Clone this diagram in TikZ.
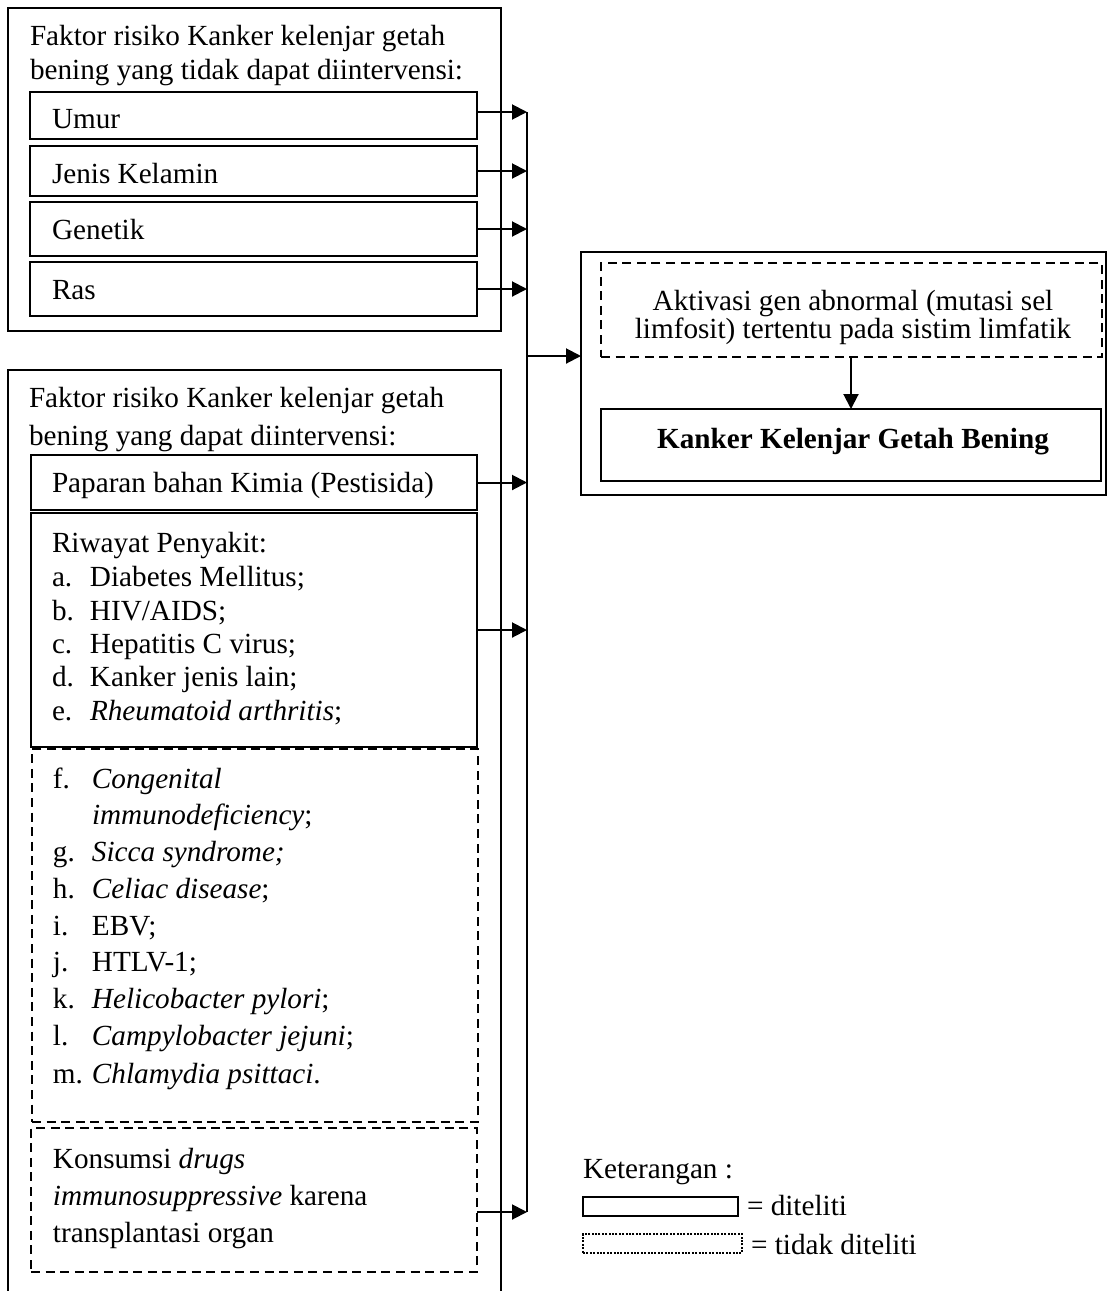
\documentclass[tikz,border=0pt]{standalone}
\usepackage{fontspec}
\setmainfont{Liberation Serif}
\usetikzlibrary{arrows.meta,fit}
\begin{document}
\begin{tikzpicture}[x=0.5pt,y=-0.5pt,
  every node/.style={font=\fontsize{14.6}{17}\selectfont, inner sep=0pt, outer sep=0pt},
  box/.style={draw, line width=1pt},
  dbox/.style={draw, line width=1pt, dash pattern=on 4.5pt off 2.8pt},
  legdash/.style={draw, line width=1.4pt, dash pattern=on 1pt off 0.7pt},
  txt/.style={anchor=base west},
  ctxt/.style={anchor=base},
  arr/.style={line width=1pt, -{Triangle[length=7.5pt,width=7.5pt]}},
  ln/.style={line width=1pt}]
\useasboundingbox (0,0) rectangle (1109,1291);
% ---------- top group ----------
\node[box, fit={(8,8) (501,331)}] (topgrp) {};
\node[txt] (t1) at (30,45) {Faktor risiko Kanker kelenjar getah};
\node[txt] (t2) at (30,79) {bening yang tidak dapat diintervensi:};
\node[box, fit={(30,92) (477,139)}] (umur) {};
\node[box, fit={(30,146) (477,196)}] (jenis) {};
\node[box, fit={(30,202) (477,256)}] (genetik) {};
\node[box, fit={(30,262) (477,316)}] (ras) {};
\node[txt] (umurT) at (52,128) {Umur};
\node[txt] (jenisT) at (52,183) {Jenis Kelamin};
\node[txt] (genetikT) at (52,239) {Genetik};
\node[txt] (rasT) at (52,299) {Ras};
% ---------- bottom group ----------
\coordinate (bl) at (8,1291);
\coordinate (br) at (501,1291);
\draw[ln] (bl) -- (8,370) -- (501,370) -- (br);
\node[txt] (b1) at (29,407) {Faktor risiko Kanker kelenjar getah};
\node[txt] (b2) at (29,445) {bening yang dapat diintervensi:};
\node[box, fit={(31,455) (477,510)}] (paparan) {};
\node[txt] (paparanT) at (52,492) {Paparan bahan Kimia (Pestisida)};
\node[box, fit={(31,513) (477,747)}] (riwayat) {};
\node[txt] (rw0) at (52,552) {Riwayat Penyakit:};
\node[txt] (rwa) at (52,586) {\makebox[19pt][l]{a.}Diabetes Mellitus;};
\node[txt] (rwb) at (52,620) {\makebox[19pt][l]{b.}HIV/AIDS;};
\node[txt] (rwc) at (52,653) {\makebox[19pt][l]{c.}Hepatitis C virus;};
\node[txt] (rwd) at (52,686.5) {\makebox[19pt][l]{d.}Kanker jenis lain;};
\node[txt] (rwe) at (52,720) {\makebox[19pt][l]{e.}\textit{Rheumatoid arthritis};};
\node[dbox, fit={(32,749) (478,1122)}] (lain) {};
\node[txt] (rwf) at (53,788) {\makebox[19.5pt][l]{f.}\textit{Congenital}};
\node[txt] (rwf2) at (92,824) {\textit{immunodeficiency};};
\node[txt] (rwg) at (53,861) {\makebox[19.5pt][l]{g.}\textit{Sicca syndrome;}};
\node[txt] (rwh) at (53,898) {\makebox[19.5pt][l]{h.}\textit{Celiac disease};};
\node[txt] (rwi) at (53,935) {\makebox[19.5pt][l]{i.}EBV;};
\node[txt] (rwj) at (53,971) {\makebox[19.5pt][l]{j.}HTLV-1;};
\node[txt] (rwk) at (53,1008) {\makebox[19.5pt][l]{k.}\textit{Helicobacter pylori};};
\node[txt] (rwl) at (53,1045) {\makebox[19.5pt][l]{l.}\textit{Campylobacter jejuni};};
\node[txt] (rwm) at (53,1083) {\makebox[19.5pt][l]{m.}\textit{Chlamydia psittaci}.};
\node[dbox, fit={(31,1128) (477,1272)}] (kons) {};
\node[txt] (k1) at (53,1168) {Konsumsi \textit{drugs}};
\node[txt] (k2) at (53,1205) {\textit{immunosuppressive} karena};
\node[txt] (k3) at (53,1242) {transplantasi organ};
% ---------- right group ----------
\node[box, fit={(581,252) (1106,495)}] (rightgrp) {};
\node[dbox, fit={(601,263) (1102,357)}] (aktivasi) {};
\node[ctxt] (a1) at (853,310) {Aktivasi gen abnormal (mutasi sel};
\node[ctxt] (a2) at (853,338) {limfosit) tertentu pada sistim limfatik};
\node[box, fit={(601,409) (1101,481)}] (kanker) {};
\node[ctxt] (kT) at (853,448) {\textbf{Kanker Kelenjar Getah Bening}};
% ---------- connectors ----------
\coordinate (bustop) at (527,112);
\coordinate (busbot) at (527,1212);
\coordinate (busmain) at (527,356);
\draw[ln] (bustop) -- (busbot);
\draw[arr] (umur.east |- bustop) -- (bustop);
\draw[arr] (jenis.east) -- (jenis.east -| bustop);
\draw[arr] (genetik.east) -- (genetik.east -| bustop);
\draw[arr] (ras.east) -- (ras.east -| bustop);
\draw[arr] (paparan.east) -- (paparan.east -| bustop);
\draw[arr] (riwayat.east) -- (riwayat.east -| bustop);
\draw[arr] (kons.east |- busbot) -- (busbot);
\draw[arr] (busmain) -- (busmain -| rightgrp.west);
\draw[arr] (aktivasi.south -| kanker.north) -- (kanker.north);
% ---------- legend ----------
\node[txt] (ket) at (583,1178) {Keterangan :};
\node[box, line width=0.9pt, fit={(583,1197) (738,1216)}] (legA) {};
\node[txt] (legAT) at (747,1215) {= diteliti};
\node[legdash, fit={(583,1234) (742,1253)}] (legB) {};
\node[txt] (legBT) at (751,1254) {= tidak diteliti};
\end{tikzpicture}
\end{document}
